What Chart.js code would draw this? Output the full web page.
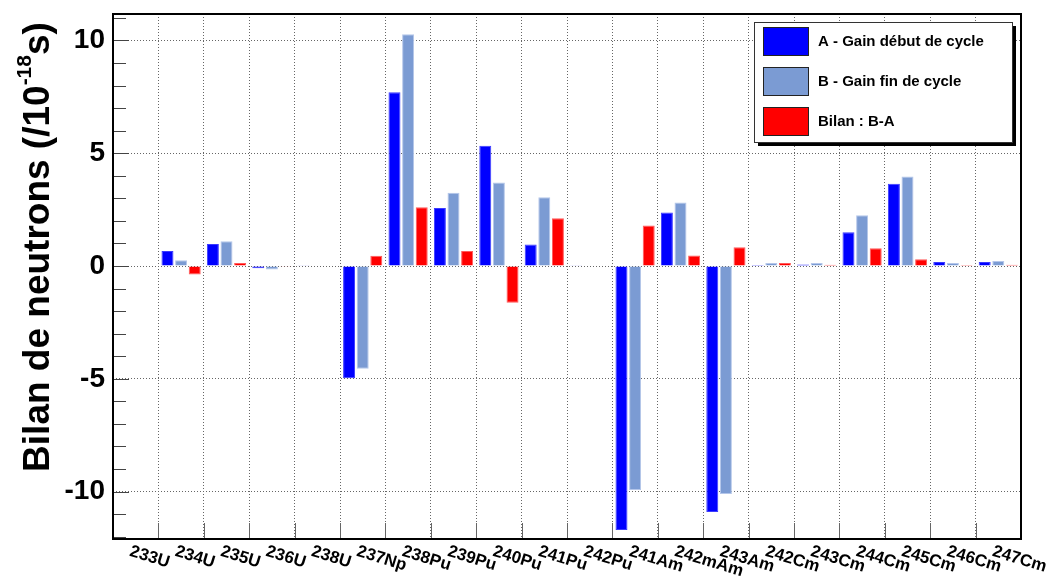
<!DOCTYPE html>
<html>
<head>
<meta charset="utf-8">
<script src="https://cdn.jsdelivr.net/npm/chart.js@4.4.0/dist/chart.umd.min.js"></script>
<style>
body { margin: 0; background: #fff; }
#wrap { width: 1062px; height: 580px; position: relative; }
</style>
</head>
<body>
<div id="wrap"><canvas id="bar-canvas"></canvas></div>
<script>
var isotopes = ['233U', '234U', '235U', '236U', '238U', '237Np', '238Pu', '239Pu', '240Pu', '241Pu',
	'242Pu', '241Am', '242mAm', '243Am', '242Cm', '243Cm', '244Cm', '245Cm', '246Cm', '247Cm'];
var gainDebut = [0.02, 0.67, 0.97, -0.10, 0.03, -4.98, 7.70, 2.57, 5.33, 0.95,
	0.03, -11.70, 2.37, -10.90, 0.04, 0.07, 1.50, 3.65, 0.18, 0.18];
var gainFin = [0.02, 0.26, 1.10, -0.15, 0.02, -4.55, 10.27, 3.25, 3.70, 3.05,
	0.02, -9.93, 2.81, -10.10, 0.13, 0.13, 2.25, 3.97, 0.13, 0.22];
var bilan = [0.02, -0.38, 0.13, -0.03, 0.02, 0.46, 2.60, 0.67, -1.63, 2.12,
	0.02, 1.80, 0.47, 0.83, 0.13, 0.06, 0.79, 0.30, 0.04, 0.06];
var yMin = -12.1;
var yMax = 11.17;

var font = '"Liberation Sans", Arial, Helvetica, sans-serif';

// ticks, frame, rotated labels, axis title and legend in ROOT style
var rootDeco = {
	id: 'rootDeco',
	afterDraw: function(chart) {
		var ctx = chart.ctx;
		var a = chart.chartArea;
		var xs = chart.scales.x;
		var ys = chart.scales.y;
		ctx.save();

		//y ticks, drawn inside the frame
		ctx.strokeStyle = '#444';
		ctx.lineWidth = 1;
		for (var v = Math.ceil(ys.min); v <= ys.max; v++) {
			var py = Math.round(ys.getPixelForValue(v)) + 0.5;
			var len = (v % 5 === 0) ? 16 : 13;
			ctx.beginPath();
			ctx.moveTo(a.left, py);
			ctx.lineTo(a.left + len, py);
			ctx.stroke();
		}

		//x ticks at bin edges
		ctx.strokeStyle = '#666';
		for (var i = 1; i < isotopes.length; i++) {
			var px = Math.round((xs.getPixelForValue(i - 1) + xs.getPixelForValue(i)) / 2) + 0.5;
			ctx.beginPath();
			ctx.moveTo(px, a.bottom);
			ctx.lineTo(px, a.bottom - 16);
			ctx.stroke();
		}

		//frame
		ctx.strokeStyle = '#000';
		ctx.lineWidth = 2;
		ctx.strokeRect(a.left, a.top, a.right - a.left, a.bottom - a.top);

		//x labels, tilted down to the right
		ctx.fillStyle = '#000';
		ctx.font = 'bold 17px ' + font;
		ctx.textAlign = 'left';
		ctx.textBaseline = 'top';
		for (var j = 0; j < isotopes.length; j++) {
			ctx.save();
			ctx.translate(xs.getPixelForValue(j) - 3, a.bottom + 4);
			ctx.rotate(17 * Math.PI / 180);
			ctx.fillText(isotopes[j], 0, 0);
			ctx.restore();
		}

		//y title with superscript
		var big = 'bold 37px ' + font;
		var small = 'bold 21px ' + font;
		var t1 = 'Bilan de neutrons (/10', t2 = '-18', t3 = 's)';
		ctx.font = big;
		var w1 = ctx.measureText(t1).width, w3 = ctx.measureText(t3).width;
		ctx.font = small;
		var w2 = ctx.measureText(t2).width;
		var total = w1 + w2 + w3;
		ctx.save();
		ctx.translate(49, 247);
		ctx.rotate(-Math.PI / 2);
		ctx.textBaseline = 'alphabetic';
		var sx = -total / 2;
		ctx.font = big;
		ctx.fillText(t1, sx, 0);
		ctx.font = small;
		ctx.fillText(t2, sx + w1, -18);
		ctx.font = big;
		ctx.fillText(t3, sx + w1 + w2, 0);
		ctx.restore();

		//legend
		var lx = a.right - 267, ly = a.top + 8, lw = 258, lh = 120;
		ctx.fillStyle = '#000';
		ctx.fillRect(lx + 4, ly + 4, lw, lh);
		ctx.fillStyle = '#fff';
		ctx.fillRect(lx, ly, lw, lh);
		ctx.strokeStyle = '#333';
		ctx.lineWidth = 1;
		ctx.strokeRect(lx + 0.5, ly + 0.5, lw, lh);
		ctx.font = 'bold 15px ' + font;
		ctx.textBaseline = 'middle';
		chart.data.datasets.forEach(function(ds, k) {
			var by = ly + 5 + k * 40;
			ctx.fillStyle = ds.backgroundColor;
			ctx.fillRect(lx + 9, by, 45, 28);
			ctx.strokeStyle = '#222';
			ctx.strokeRect(lx + 9.5, by + 0.5, 45, 28);
			ctx.fillStyle = '#000';
			ctx.fillText(ds.label, lx + 64, by + 15);
		});
		ctx.restore();
	}
};

var canvas = document.querySelector('#bar-canvas');

new Chart(canvas, {
	type: 'bar',
	data: {
		labels: isotopes,
		datasets: [
			{
				label: 'A - Gain début de cycle',
				backgroundColor: '#0000ff',
				borderColor: '#3a3aff',
				borderWidth: 1,
				data: gainDebut
			},
			{
				label: 'B - Gain fin de cycle',
				backgroundColor: '#7b9bd3',
				borderColor: '#b4c6ea',
				borderWidth: 1,
				data: gainFin
			},
			{
				label: 'Bilan : B-A',
				backgroundColor: '#ff0000',
				borderColor: '#ff5a5a',
				borderWidth: 1,
				data: bilan
			}
		]
	},
	options: {
		responsive: true,
		maintainAspectRatio: false,
		animation: false,
		categoryPercentage: 0.9,
		barPercentage: 0.88,
		layout: { padding: { top: 14, right: 41, left: 0, bottom: 0 } },
		plugins: {
			legend: { display: false },
			tooltip: { enabled: false }
		},
		scales: {
			x: {
				offset: true,
				grid: { offset: true, color: '#666', lineWidth: 1, drawTicks: false },
				border: { display: false, dash: [1, 2] },
				ticks: { display: false },
				afterFit: function(scale) {
					scale.height = 41;
					scale.paddingLeft = 0;
					scale.paddingRight = 0;
				}
			},
			y: {
				min: yMin,
				max: yMax,
				grid: { color: '#666', lineWidth: 1, drawTicks: false },
				border: { display: false, dash: [1, 2] },
				ticks: {
					stepSize: 5,
					includeBounds: false,
					padding: 8,
					color: '#000',
					font: { family: font, size: 28, weight: 'bold' }
				},
				afterFit: function(scale) {
					scale.width = 113;
					scale.paddingTop = 0;
					scale.paddingBottom = 0;
				}
			}
		}
	},
	plugins: [rootDeco]
});
</script>
</body>
</html>
